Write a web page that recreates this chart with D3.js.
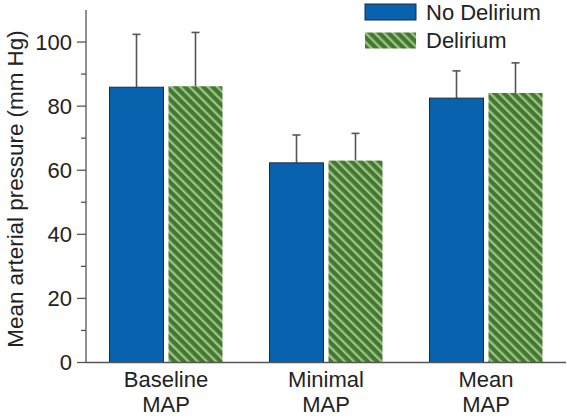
<!DOCTYPE html>
<html><head><meta charset="utf-8">
<script src="https://cdn.jsdelivr.net/npm/d3@7"></script>
<style>html,body{margin:0;padding:0;background:#fff;}svg{display:block;font-family:"Liberation Sans",Arial,sans-serif;}</style>
</head><body>
<svg id="c" width="567" height="418"></svg>
<script>
const categories = ["Baseline|MAP", "Minimal|MAP", "Mean|MAP"];
const seriesNames = ["No Delirium", "Delirium"];
const noDeliriumMean = [85.9, 62.3, 82.5];
const noDeliriumErr = [102.4, 71.0, 91.0];
const deliriumMean = [86.2, 63.0, 84.1];
const deliriumErr = [103.0, 71.5, 93.5];
const yTicks = [0, 20, 40, 60, 80, 100];
const yMinorTicks = [10, 30, 50, 70, 90];

const svg = d3.select("#c");
const defs = svg.append("defs");
const pat = defs.append("pattern").attr("id","stripe").attr("patternUnits","userSpaceOnUse")
  .attr("width",6.5).attr("height",6.5).attr("patternTransform","rotate(-45)");
pat.append("rect").attr("width",6.5).attr("height",6.5).attr("fill","#417a2f");
pat.append("rect").attr("x",0).attr("width",2.3).attr("height",6.5).attr("fill","#a2c08a");

const fills = ["#0862ae", "url(#stripe)"];
const y = d3.scaleLinear().domain([0,110]).range([362.5,10]);
const x0 = d3.scaleBand().domain(categories).range([86,566]).padding(0);
const x1 = d3.scaleBand().domain(seriesNames).range([-56.5,56.5]).paddingInner(5/59).paddingOuter(0);

const data = categories.map((c,i)=>({c, vals:[
  {s:seriesNames[0], v:noDeliriumMean[i], e:noDeliriumErr[i]},
  {s:seriesNames[1], v:deliriumMean[i], e:deliriumErr[i]}]}));

const g = svg.append("g");
data.forEach(d=>{
  const cx = x0(d.c) + x0.bandwidth()/2;
  d.vals.forEach((b,j)=>{
    const bx = cx + x1(b.s);
    const mid = bx + x1.bandwidth()/2;
    g.append("line").attr("x1",mid).attr("x2",mid).attr("y1",y(b.v)).attr("y2",y(b.e))
      .attr("stroke","#555").attr("stroke-width",1.6);
    g.append("line").attr("x1",mid-4).attr("x2",mid+4).attr("y1",y(b.e)).attr("y2",y(b.e))
      .attr("stroke","#555").attr("stroke-width",1.6);
    g.append("rect").attr("x",bx).attr("y",y(b.v)).attr("width",x1.bandwidth()).attr("height",y(0)-y(b.v))
      .attr("fill",fills[j]).attr("stroke", j===0?"#1a2a40":"none").attr("stroke-width",1);
  });
});

// Y axis
const ya = svg.append("g").attr("transform","translate(86,0)");
ya.append("line").attr("x1",0).attr("x2",0).attr("y1",10).attr("y2",y(0)).attr("stroke","#555").attr("stroke-width",1.3);
yTicks.forEach(t=>{
  ya.append("line").attr("x1",-9).attr("x2",0).attr("y1",y(t)).attr("y2",y(t)).attr("stroke","#555").attr("stroke-width",1.3);
  ya.append("text").attr("x",-14).attr("y",y(t)).attr("dy","0.36em").attr("text-anchor","end")
    .attr("font-size",22).attr("fill","#222").text(t);
});
yMinorTicks.forEach(t=>{
  ya.append("line").attr("x1",-5).attr("x2",0).attr("y1",y(t)).attr("y2",y(t)).attr("stroke","#555").attr("stroke-width",1.3);
});
// X axis line
svg.append("line").attr("x1",86).attr("x2",566).attr("y1",y(0)).attr("y2",y(0)).attr("stroke","#555").attr("stroke-width",1.3);

// category labels
categories.forEach(c=>{
  const cx = x0(c) + x0.bandwidth()/2;
  const parts = c.split("|");
  parts.forEach((p,k)=>{
    svg.append("text").attr("x",cx).attr("y",387+k*25).attr("text-anchor","middle")
      .attr("font-size",22).attr("fill","#222").text(p);
  });
});

// y title
svg.append("text").attr("transform","translate(22.5,189) rotate(-90)").attr("text-anchor","middle")
  .attr("font-size",22.4).attr("fill","#222").text("Mean arterial pressure (mm Hg)");

// legend
seriesNames.forEach((s,i)=>{
  svg.append("rect").attr("x",365).attr("y",4+i*28.5).attr("width",51).attr("height",16)
    .attr("fill",fills[i]).attr("stroke", i===0?"#1a2a40":"none").attr("stroke-width",1);
  svg.append("text").attr("x",426).attr("y",19.5+i*28.5).attr("font-size",22).attr("fill","#222").text(s);
});
</script>
</body></html>
